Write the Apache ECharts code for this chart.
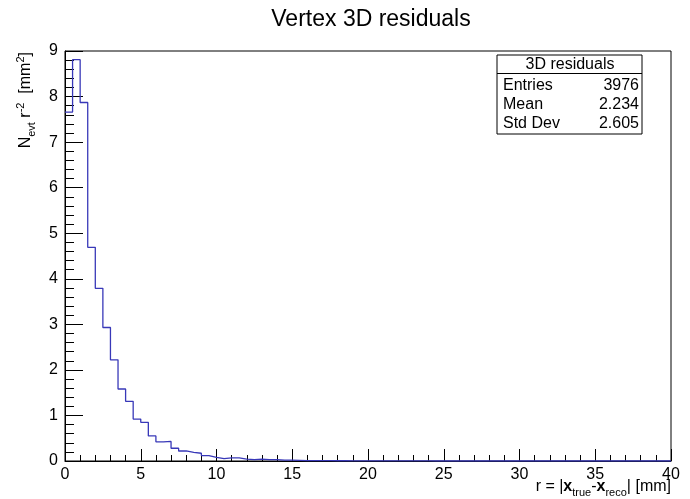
<!DOCTYPE html>
<html>
<head>
<meta charset="utf-8">
<script src="https://cdn.jsdelivr.net/npm/echarts@6/dist/echarts.min.js"></script>
<style>
html,body{margin:0;padding:0;background:#fff;}
#chart{width:690px;height:499px;}
</style>
</head>
<body>
<div id="chart"></div>
<script>
// Histogram: 80 bins of width 0.5 mm over [0, 40]
var binWidth = 0.5;
var xMin = 0, xMax = 40;
var binValues = [
  7.66, 8.81, 7.87, 4.69, 3.79, 2.93, 2.22, 1.58, 1.31, 0.92,
  0.85, 0.55, 0.42, 0.43, 0.28, 0.22, 0.19, 0.17, 0.12, 0.08,
  0.05, 0.07, 0.07, 0.04, 0.03, 0.04, 0.03, 0.03, 0.02, 0.02,
  0.015, 0.01, 0.01, 0.01, 0.008, 0.006, 0.005, 0.004, 0.004, 0.003,
  0.003, 0.002, 0.002, 0.002, 0.001, 0.001, 0.001, 0.001, 0, 0.001,
  0, 0, 0.001, 0, 0, 0, 0, 0, 0, 0,
  0, 0, 0, 0, 0, 0, 0, 0, 0, 0,
  0, 0, 0, 0, 0, 0, 0, 0, 0, 0
];
var xTickLabels = ['0','5','10','15','20','25','30','35','40'];
var yTickLabels = ['0','1','2','3','4','5','6','7','8','9'];
var statsTitle = '3D residuals';
var statsNames = ['Entries', 'Mean', 'Std Dev'];
var statsValues = ['3976', '2.234', '2.605'];

var stepData = [];
for (var i = 0; i < binValues.length; i++) {
  stepData.push([xMin + i * binWidth, binValues[i]]);
}
stepData.push([xMax, binValues[binValues.length - 1]]);

var FONT = 'Liberation Sans, Arial, sans-serif';

var chart = echarts.init(document.getElementById('chart'), null, {renderer: 'canvas'});

var statsGraphics = [
  {type: 'rect', shape: {x: 497, y: 55, width: 145, height: 79},
   style: {fill: '#fff', stroke: '#000', lineWidth: 1}, z: 100},
  {type: 'line', shape: {x1: 497, y1: 73.5, x2: 642, y2: 73.5},
   style: {stroke: '#000', lineWidth: 1}, z: 101},
  {type: 'text', x: 570, y: 65, z: 101,
   style: {text: statsTitle, font: '16px ' + FONT, fill: '#000', align: 'center', verticalAlign: 'middle'}}
];
var rowY = [86, 105, 124];
for (var r = 0; r < statsNames.length; r++) {
  statsGraphics.push({type: 'text', x: 503, y: rowY[r], z: 101,
    style: {text: statsNames[r], font: '16px ' + FONT, fill: '#000', align: 'left', verticalAlign: 'middle'}});
  statsGraphics.push({type: 'text', x: 639, y: rowY[r], z: 101,
    style: {text: statsValues[r], font: '16px ' + FONT, fill: '#000', align: 'right', verticalAlign: 'middle'}});
}

var richStyles = {
  m: {fontSize: 16, fontFamily: FONT, color: '#000', lineHeight: 22, verticalAlign: 'middle'},
  b: {fontSize: 16, fontFamily: FONT, color: '#000', fontWeight: 'bold', lineHeight: 22, verticalAlign: 'middle'},
  sub: {fontSize: 11, fontFamily: FONT, color: '#000', lineHeight: 12, verticalAlign: 'bottom'},
  sup: {fontSize: 11, fontFamily: FONT, color: '#000', lineHeight: 12, verticalAlign: 'top'}
};

var option = {
  animation: false,
  backgroundColor: '#fff',
  title: {
    text: 'Vertex 3D residuals',
    left: 366, top: 3, textAlign: 'center',
    textStyle: {fontFamily: FONT, fontSize: 23, fontWeight: 'normal', color: '#000'}
  },
  grid: {left: 65, right: 19, top: 51, bottom: 38, show: true, borderColor: '#000', borderWidth: 1, backgroundColor: 'transparent'},
  xAxis: {
    type: 'value', min: xMin, max: xMax, interval: 5,
    axisLine: {show: true, onZero: false, lineStyle: {color: '#000', width: 1}},
    axisTick: {show: true, inside: true, length: 12, lineStyle: {color: '#000'}},
    minorTick: {show: true, splitNumber: 5, length: 6, lineStyle: {color: '#000'}},
    splitLine: {show: false},
    axisLabel: {fontFamily: FONT, fontSize: 16, color: '#000', margin: 6,
      formatter: function (v) { return xTickLabels[Math.round(v / 5)]; }}
  },
  yAxis: {
    type: 'value', min: 0, max: 9, interval: 1,
    axisLine: {show: true, onZero: false, lineStyle: {color: '#000', width: 1}},
    axisTick: {show: true, inside: true, length: 18, lineStyle: {color: '#000'}},
    minorTick: {show: true, splitNumber: 5, length: 9, lineStyle: {color: '#000'}},
    splitLine: {show: false},
    axisLabel: {fontFamily: FONT, fontSize: 16, color: '#000', margin: 7,
      formatter: function (v) { return yTickLabels[Math.round(v)]; }}
  },
  series: [{
    type: 'line',
    step: 'end',
    data: stepData,
    symbol: 'none',
    lineStyle: {color: '#3838b8', width: 1.3},
    z: 5
  }],
  graphic: statsGraphics.concat([
    {type: 'text', x: 671, y: 487, z: 101,
     style: {
       text: '{m|r = |}{b|x}{sub|true}{m|-}{b|x}{sub|reco}{m|| [mm]}',
       rich: richStyles, align: 'right', verticalAlign: 'middle'
     }},
    {type: 'text', x: 26, y: 52, rotation: Math.PI / 2, z: 101,
     style: {
       text: '{m|N}{sub|evt}{m| r}{sup|-2}{m|  [mm}{sup|2}{m|]}',
       rich: richStyles, align: 'right', verticalAlign: 'middle'
     }}
  ])
};
chart.setOption(option);
</script>
</body>
</html>
